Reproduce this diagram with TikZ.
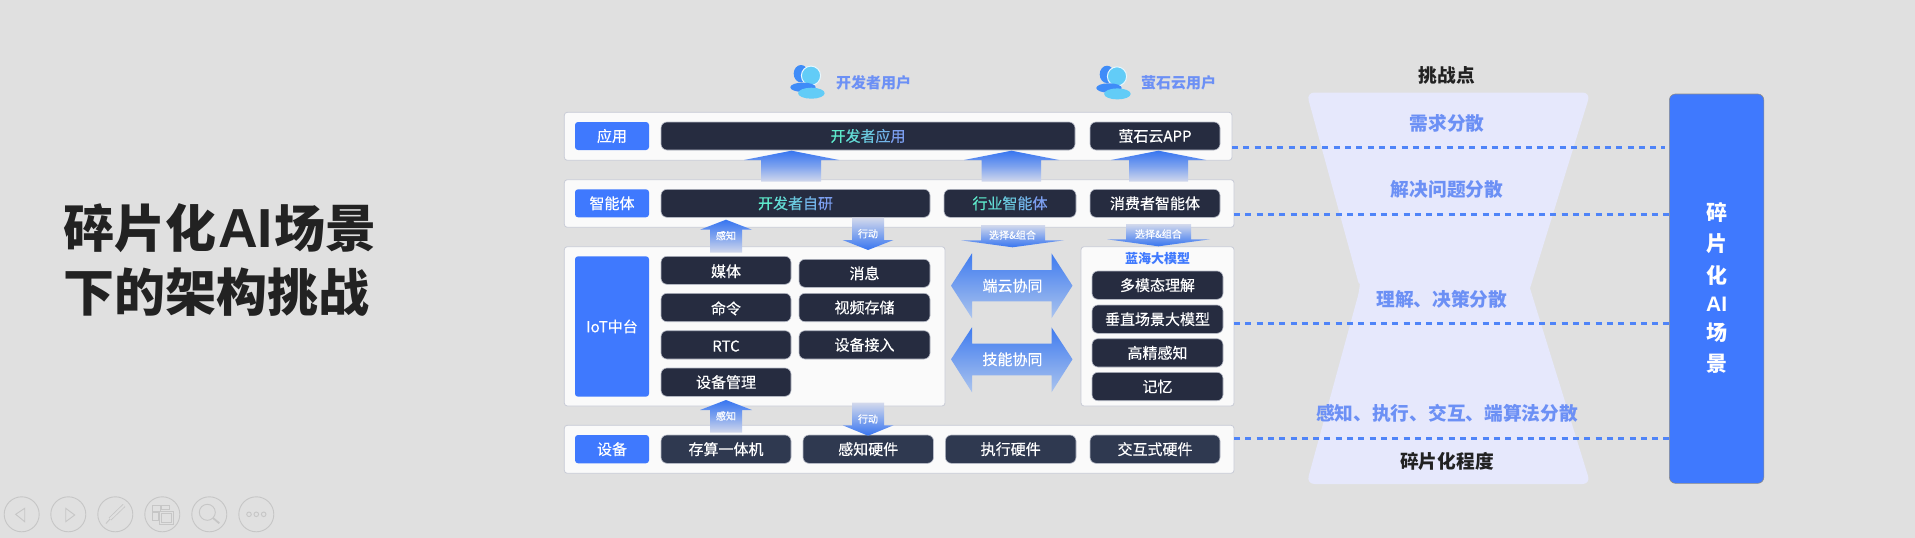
\documentclass[tikz,border=0pt]{standalone}
\usepackage{fontspec}
\setmainfont{Noto Sans CJK SC}
\newfontfamily\medf{Noto Sans CJK SC}[FakeBold=0.35]
\newfontfamily\latb{Liberation Sans}[Scale=1]
\usetikzlibrary{calc}
\definecolor{bg}{HTML}{E0E0E0}
\definecolor{panelfill}{HTML}{FAFAFA}
\definecolor{paneledge}{HTML}{C8CBD6}
\definecolor{tagblue}{HTML}{3F79FE}
\definecolor{bardark}{HTML}{262C40}
\definecolor{barlight}{HTML}{2F3950}
\definecolor{baredge}{HTML}{B8BCC8}
\definecolor{arrowtop}{HTML}{3775F0}
\definecolor{arrowlow}{HTML}{D3D9EC}
\definecolor{hubtop}{HTML}{3F7BEF}
\definecolor{hublow}{HTML}{ABC4EE}
\definecolor{hour}{HTML}{E6E8FC}
\definecolor{periw}{HTML}{6C90F5}
\definecolor{dashb}{HTML}{4F84F8}
\definecolor{inkd}{HTML}{222222}
\definecolor{nav}{HTML}{C6C6C6}
\definecolor{iconb}{HTML}{3F8CF8}
\definecolor{iconc}{HTML}{62CCF7}
\definecolor{ga}{HTML}{5EEACB}
\definecolor{gb}{HTML}{63DCD6}
\definecolor{gc}{HTML}{6AC9DF}
\definecolor{gd}{HTML}{72B4E8}
\definecolor{ge}{HTML}{7C9FF0}
\newcommand{\gradfive}[5]{\textcolor{ga}{#1}\textcolor{gb}{#2}\textcolor{gc}{#3}\textcolor{gd}{#4}\textcolor{ge}{#5}}
\newcommand{\fsz}[1]{\fontsize{#1}{#1}\selectfont}
% name, style, x1, y1, x2, y2, text
\newcommand{\rbox}[7]{%
  \pgfmathsetmacro{\rcx}{(#3+#5)/2}\pgfmathsetmacro{\rcy}{(#4+#6)/2}%
  \pgfmathsetmacro{\rw}{#5-#3}\pgfmathsetmacro{\rh}{#6-#4}%
  \node[#2,minimum width=\rw pt,minimum height=\rh pt] (#1) at (\rcx,\rcy) {#7};}
\newcommand{\uparr}[7]{% xL xS1 xS2 xR tip base bottom
  \path[top color=arrowtop,bottom color=arrowlow,middle color=arrowtop!55!arrowlow]
   ({(#1+#4)/2},#5) -- (#4,#6) -- (#3,#6) -- (#3,#7) -- (#2,#7) -- (#2,#6) -- (#1,#6) -- cycle;}
\newcommand{\downarr}[7]{% xL xS1 xS2 xR top base tip
  \path[top color=arrowlow,bottom color=arrowtop]
   (#2,#5) -- (#3,#5) -- (#3,#6) -- (#4,#6) -- ({(#1+#4)/2},#7) -- (#1,#6) -- (#2,#6) -- cycle;}
\newcommand{\hubarr}[5]{% headtop shafttop tipy shaftbot headbot
  \path[top color=hubtop,bottom color=hublow]
   (972,#1) -- (972,#2) -- (1051.5,#2) -- (1051.5,#1) -- (1072.5,#3) -- (1051.5,#5) -- (1051.5,#4) -- (972,#4) -- (972,#5) -- (951,#3) -- cycle;}
\newcommand{\usericon}[2]{%
  \begin{scope}[shift={(#1,#2)}]
  \fill[iconb] (801,73.7) ellipse [x radius=7.3pt,y radius=8.7pt];
  \fill[iconc,draw=white!85!iconc,line width=1pt] (811,75.7) ellipse [x radius=9.6pt,y radius=9.6pt];
  \fill[iconb] (803,87.3) ellipse [x radius=12.7pt,y radius=4.7pt];
  \fill[iconc] (811.4,93.2) ellipse [x radius=13.3pt,y radius=5.5pt];
  \end{scope}}
\tikzset{
  panel/.style={draw=paneledge,fill=panelfill,line width=0.8pt,rounded corners=3pt,inner sep=0pt,outer sep=0pt},
  tag/.style={fill=tagblue,rounded corners=3pt,text=white,font=\fsz{15}\medf,inner sep=0pt,outer sep=0pt},
  bar/.style={draw=baredge,fill=bardark,line width=0.6pt,rounded corners=6pt,text=white,font=\fsz{15}\medf,inner sep=0pt,outer sep=0pt},
  iotbar/.style={bar,text height=15pt,text depth=1.6pt},
  devbar/.style={bar,fill=barlight},
  arrowtext/.style={text=white,font=\fsz{10}\medf,inner sep=0pt},
  hubtext/.style={text=white,font=\fsz{15}\medf,inner sep=0pt},
  usertext/.style={text=periw,font=\fsz{15}\bfseries,inner sep=0pt},
  hourtext/.style={text=periw,font=\fsz{18.7}\bfseries,inner sep=0pt},
  hourhead/.style={text=inkd,font=\fsz{18.7}\bfseries,inner sep=0pt},
  titletext/.style={text=inkd,font=\fsz{51}\bfseries,inner sep=0pt,anchor=west},
  bigchar/.style={text=white,font=\fsz{21}\bfseries,inner sep=0pt},
  dashline/.style={draw=dashb,line width=2.5pt,dash pattern=on 6pt off 5.3pt},
  navline/.style={draw=nav,line width=0.9pt},
}
\begin{document}
\begin{tikzpicture}[x=1pt,y=-1pt]
\useasboundingbox (0,0) rectangle (1915,538);
\fill[bg] (0,0) rectangle (1915,538);

% title
\node[titletext] (t1) at (63,228) {碎片化\kern2pt{\latb\fsz{55}\bfseries AI}\kern1.5pt场景};
\node[titletext] (t2) at (63,292) {下的架构挑战};

% users
\usericon{0}{0}
\usericon{306}{0.7}
\node[usertext] (u1) at (873.5,82.7) {开发者用户};
\node[usertext] (u2) at (1178.5,83) {萤石云用户};

% hourglass
\fill[hour] (1360,288.3) [rounded corners=8pt] -- (1306.5,92.5) -- (1590.5,92.5) [sharp corners] -- (1530,288.3) [rounded corners=8pt] -- (1590.5,484) -- (1306.5,484) -- (1360,288.3) -- cycle;

% panels
\rbox{papp}{panel}{564.3}{112.3}{1232}{160.3}{}
\rbox{pagent}{panel}{564.3}{179.7}{1234}{227.3}{}
\rbox{piot}{panel}{564.3}{246.7}{945}{406}{}
\rbox{pmodel}{panel}{1081}{246.7}{1234}{406}{}
\rbox{pdev}{panel}{564.3}{425.3}{1234}{473.3}{}

% tags
\rbox{tapp}{tag}{575}{122}{649}{150}{应用}
\rbox{tagent}{tag}{575}{189.3}{649}{217.3}{智能体}
\rbox{tiot}{tag}{575}{256.3}{649}{396.7}{IoT中台}
\rbox{tdev}{tag}{575}{435}{649}{463.3}{设备}

% bars
\rbox{a1}{bar}{661}{122}{1075}{150}{\gradfive{开}{发}{者}{应}{用}}
\rbox{a2}{bar}{1090}{122}{1220}{150}{萤石云APP}
\rbox{b1}{bar}{661}{189.3}{930}{217.3}{\gradfive{开}{发}{者}{自}{研}}
\rbox{b2}{bar}{944}{189.3}{1076}{217.3}{\gradfive{行}{业}{智}{能}{体}}
\rbox{b3}{bar}{1090}{189.3}{1220}{217.3}{消费者智能体}
\rbox{c1}{iotbar}{661}{256.3}{791}{284.3}{媒体}
\rbox{c2}{bar}{799}{259.3}{930}{287.3}{消息}
\rbox{c3}{iotbar}{661}{293.3}{791}{321.7}{命令}
\rbox{c4}{bar}{799}{293.3}{930}{321.7}{视频存储}
\rbox{c5}{iotbar}{661}{330.7}{791}{359}{RTC}
\rbox{c6}{bar}{799}{330.7}{930}{359}{设备接入}
\rbox{c7}{bar}{661}{368}{791}{396.3}{设备管理}
\rbox{m1}{bar}{1092}{271}{1223}{299.3}{多模态理解}
\rbox{m2}{bar}{1092}{305}{1223}{333.3}{垂直场景大模型}
\rbox{m3}{bar}{1092}{338.7}{1223}{367}{高精感知}
\rbox{m4}{bar}{1092}{372.3}{1223}{400.7}{记忆}
\rbox{d1}{devbar}{661}{435}{791}{463.3}{存算一体机}
\rbox{d2}{devbar}{803}{435}{933.5}{463.3}{感知硬件}
\rbox{d3}{devbar}{945.4}{435}{1076}{463.3}{执行硬件}
\rbox{d4}{devbar}{1090}{435}{1220}{463.3}{交互式硬件}
\node[text=tagblue,font=\fsz{13}\bfseries,inner sep=0pt] (mhead) at (1157.5,259) {蓝海大模型};

% arrows
\uparr{744}{761}{821}{839}{150.7}{160}{181.7}
\uparr{964}{981.7}{1041}{1059}{150.7}{160}{181.7}
\uparr{1111}{1129}{1188}{1206}{150.7}{160}{181.7}
\uparr{700}{710}{742}{752}{219.7}{229.7}{252.7}
\downarr{842.6}{852}{884}{893.5}{217.7}{240}{250}
\downarr{961}{981}{1045}{1064}{225}{240.3}{247.3}
\downarr{1107}{1126}{1191}{1210}{224}{239.3}{246.3}
\uparr{700}{710}{742}{752}{400}{410}{432.7}
\downarr{842.6}{852}{884}{893.5}{402.7}{425.3}{435.7}
\hubarr{253.3}{270}{285.7}{301.3}{318.3}
\hubarr{327.3}{343.7}{359.3}{375.3}{392.3}

\node[arrowtext] (l1) at (726,235.7) {感知};
\node[arrowtext] (l2) at (868,233.7) {行动};
\node[arrowtext] (l3) at (1012.5,235) {选择\&组合};
\node[arrowtext] (l4) at (1158.4,234) {选择\&组合};
\node[arrowtext] (l5) at (726,416) {感知};
\node[arrowtext] (l6) at (868,419) {行动};
\node[hubtext] (h1) at (1012.5,285.7) {端云协同};
\node[hubtext] (h2) at (1012.5,359.3) {技能协同};

% big box
\rbox{big}{draw=black!45,line width=0.6pt,fill=tagblue,rounded corners=6pt,inner sep=0pt,outer sep=0pt}{1669.4}{94}{1763.8}{483.3}{}
\node[bigchar] (g1) at (1716.6,212.3) {碎};
\node[bigchar] (g2) at (1716.6,243.7) {片};
\node[bigchar] (g3) at (1716.6,275) {化};
\node[bigchar] (g4) at (1716.6,304) {\latb\fsz{21}\bfseries AI};
\node[bigchar] (g5) at (1716.6,332.7) {场};
\node[bigchar] (g6) at (1716.6,364) {景};

% dashed connectors
\coordinate (e1) at (papp.east |- 0,147.5);
\coordinate (e1end) at (1665,147.5);
\coordinate (e2) at (pagent.east |- 0,214.3);
\coordinate (e3) at (pmodel.east |- 0,323.3);
\coordinate (e4) at (pdev.east |- 0,438.3);
\draw[dashline,line width=3pt] (e1) -- (e1end);
\draw[dashline] (e2) -- (e2 -| big.west);
\draw[dashline] (e3) -- (e3 -| big.west);
\draw[dashline] (e4) -- (e4 -| big.west);

% hourglass labels
\node[hourhead] (k1) at (1447,75) {挑战点};
\node[hourtext] (k2) at (1447,123) {需求分散};
\node[hourtext] (k3) at (1447,189.7) {解决问题分散};
\node[hourtext] (k4) at (1441.8,299) {理解、决策分散};
\node[hourtext] (k5) at (1447,413.3) {感知、执行、交互、端算法分散};
\node[hourhead] (k6) at (1447,461) {碎片化程度};

% nav buttons
\foreach \cx in {21.7,68.3,115.3,162.3,209.3,256.3}
  \draw[navline] (\cx,514.3) circle [radius=17.5pt];
\draw[navline] (15.7,514.3) -- (24.7,508.3) -- (24.7,521.7) -- cycle;
\draw[navline] (65.7,508.3) -- (65.7,521.7) -- (74.7,515) -- cycle;
\draw[nav,line width=0.8pt,double=bg,double distance=2pt] (110,519) -- (124,505.5);
\draw[navline] (106,523.5) -- (110,519);
\draw[navline] (152.7,505) rectangle (160,511);
\draw[navline] (161.7,505) rectangle (169,509.3);
\draw[navline] (152.7,512.3) rectangle (158.3,520);
\draw[navline] (159.3,511) rectangle (173.3,524.3);
\draw[navline] (161.5,513.5) rectangle (171,522);
\draw[navline] (207.3,512.3) circle [radius=8pt];
\draw[nav,line width=1.8pt] (213,518) -- (219.3,523.3);
\foreach \cx in {249,256.3,263.7}
  \draw[navline] (\cx,514.3) circle [radius=2.3pt];
\end{tikzpicture}
\end{document}
